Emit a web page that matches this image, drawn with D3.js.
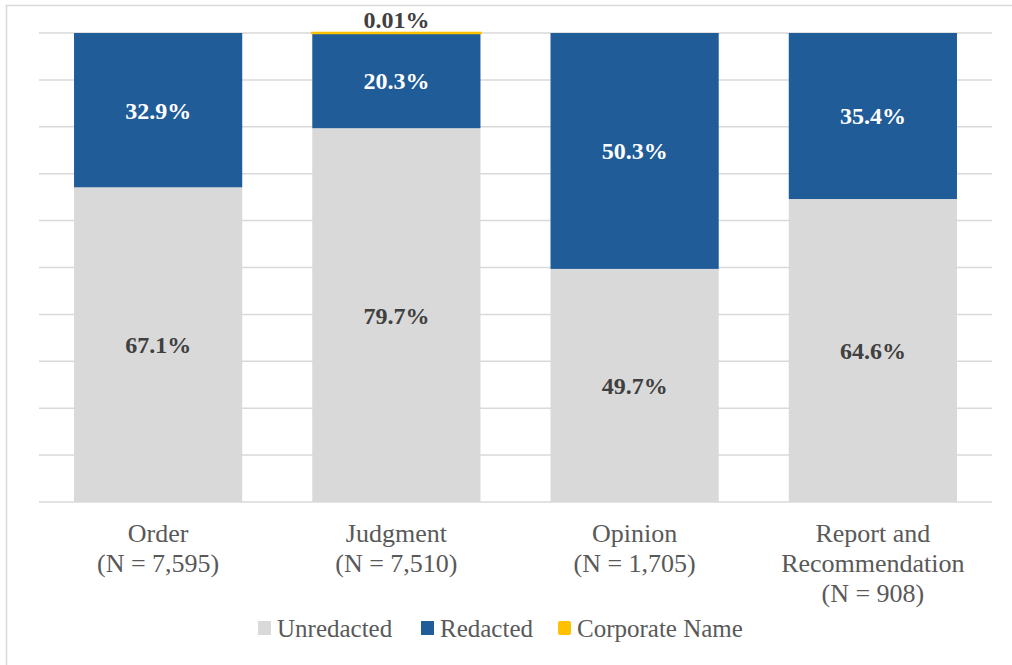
<!DOCTYPE html>
<html lang="en">
<head>
<meta charset="UTF-8">
<title>Redaction by document type</title>
<script src="https://cdn.jsdelivr.net/npm/d3@7"></script>
<style>
	body { margin: 0; background: #fff; }
</style>
</head>
<body>
<div id="chart"></div>
<script>
// data (percent of documents)
var categories = ["Order", "Judgment", "Opinion", "Report and Recommendation"];
var catLines = [["Order", "(N = 7,595)"], ["Judgment", "(N = 7,510)"], ["Opinion", "(N = 1,705)"], ["Report and", "Recommendation", "(N = 908)"]];
var seriesNames = ["Unredacted", "Redacted", "Corporate Name"];
var unredacted = [67.1, 79.7, 49.7, 64.6];
var redacted = [32.9, 20.3, 50.3, 35.4];
var corporate = [0, 0.01, 0, 0];
var yTicks = [0, 10, 20, 30, 40, 50, 60, 70, 80, 90, 100];

var colors = ["#d9d9d9", "#1f5c98", "#ffc000"];
var labelColors = ["#404040", "#ffffff", "#404040"];
var serif = "'Liberation Serif', 'Times New Roman', Times, serif";

var W = 1012, H = 665;
var svg = d3.select("#chart").append("svg")
	.attr("width", W).attr("height", H)
	.style("font-family", serif);

// outer frame
svg.append("rect")
	.attr("x", 6.5).attr("y", 5.5)
	.attr("width", W).attr("height", H)
	.attr("fill", "#fff").attr("stroke", "#d9d9d9").attr("stroke-width", 1.5);

var x = d3.scaleBand()
	.domain(categories)
	.range([39, 992])
	.paddingInner(0.294)
	.paddingOuter(0.147);

var y = d3.scaleLinear()
	.domain([0, 100])
	.range([502, 33]);

// gridlines
svg.append("g").selectAll("line")
	.data(yTicks)
	.enter().append("line")
	.attr("x1", 39).attr("x2", 992)
	.attr("y1", function(d){ return y(d); })
	.attr("y2", function(d){ return y(d); })
	.attr("stroke", "#d9d9d9").attr("stroke-width", 1.5);

var rows = categories.map(function(c, i){
	return { cat: c, s0: unredacted[i], s1: redacted[i], s2: corporate[i] };
});
var stack = d3.stack().keys(["s0", "s1", "s2"]);
var layers = stack(rows);

var g = svg.append("g");
layers.forEach(function(layer, k){
	g.selectAll(".bar" + k)
		.data(layer.filter(function(d){ return d[1] - d[0] > 0; }))
		.enter().append("rect")
		.attr("x", function(d){ return x(d.data.cat); })
		.attr("y", function(d){ return y(d[1]); })
		.attr("width", x.bandwidth())
		.attr("height", function(d){ return y(d[0]) - y(d[1]); })
		.attr("fill", colors[k])
		.attr("stroke", k == 2 ? colors[k] : "none")
		.attr("stroke-width", k == 2 ? 2.5 : 0);
});

// data labels
layers.forEach(function(layer, k){
	g.selectAll(".lab" + k)
		.data(layer.filter(function(d){ return d[1] - d[0] > 0; }))
		.enter().append("text")
		.attr("x", function(d){ return x(d.data.cat) + x.bandwidth() / 2; })
		.attr("y", function(d){
			if (k == 2) return y(d[1]) - 13;
			return y((d[0] + d[1]) / 2);
		})
		.attr("dy", "0.35em")
		.attr("text-anchor", "middle")
		.attr("font-size", 24)
		.attr("font-weight", "bold")
		.attr("fill", labelColors[k])
		.text(function(d){
			var v = d[1] - d[0];
			return k == 2 ? v.toFixed(2) + "%" : v.toFixed(1) + "%";
		});
});

// category labels
var xl = svg.append("g");
categories.forEach(function(c, i){
	var t = xl.append("text")
		.attr("x", x(c) + x.bandwidth() / 2)
		.attr("y", 542)
		.attr("text-anchor", "middle")
		.attr("font-size", 26)
		.attr("fill", "#595959");
	catLines[i].forEach(function(line, j){
		t.append("tspan")
			.attr("x", x(c) + x.bandwidth() / 2)
			.attr("dy", j == 0 ? 0 : 30)
			.text(line);
	});
});

// legend
var legendX = [258, 421, 558];
var leg = svg.append("g");
seriesNames.forEach(function(name, i){
	leg.append("rect")
		.attr("x", legendX[i]).attr("y", 621)
		.attr("width", 13).attr("height", 14)
		.attr("rx", i == 2 ? 2 : 0)
		.attr("fill", colors[i]);
	leg.append("text")
		.attr("x", legendX[i] + 19).attr("y", 637)
		.attr("font-size", 25)
		.attr("fill", "#595959")
		.text(name);
});
</script>
</body>
</html>
